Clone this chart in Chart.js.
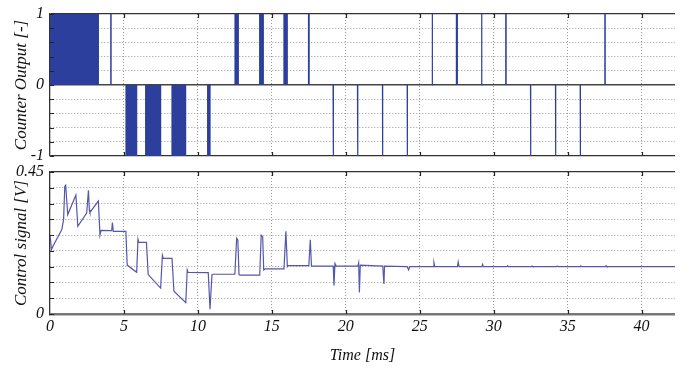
<!DOCTYPE html>
<html><head><meta charset="utf-8">
<script src="https://cdn.jsdelivr.net/npm/chart.js@4/dist/chart.umd.min.js"></script>
<style>
html,body{margin:0;padding:0;background:#fff;}
#wrap{position:relative;width:694px;height:380px;overflow:hidden;}
#c1{position:absolute;left:0;top:0;}
#c2{position:absolute;left:0;top:165px;}
</style></head><body>
<div id="wrap">
<canvas id="c1" width="694" height="165"></canvas>
<canvas id="c2" width="694" height="215"></canvas>
</div>
<script>
// ---- data ----
const xMax = 42.26;
const counterTickLabels = {"1":"1","0":"0","-1":"-1"};
const controlTickLabels = ["0","0.45"];

// counter output pulses (ms) and level
const pulseStart = [0, 4.11, 12.51, 14.18, 15.82, 17.48, 25.84, 27.48, 29.18, 30.82, 37.52,
                    5.14, 6.47, 8.25, 10.66, 19.14, 20.79, 22.48, 24.15, 32.49, 34.18, 35.85];
const pulseEnd   = [3.27, 4.13, 12.73, 14.42, 16.04, 17.52, 25.86, 27.54, 29.20, 30.84, 37.54,
                    5.86, 7.48, 9.17, 10.82, 19.17, 20.82, 22.50, 24.17, 32.51, 34.20, 35.87];
const pulseLevel = [1, 1, 1, 1, 1, 1, 1, 1, 1, 1, 1,
                    -1, -1, -1, -1, -1, -1, -1, -1, -1, -1, -1];

// control signal [V] vs time [ms]
const ctrlTime = [0, 0.1, 0.35, 0.8, 0.92, 1.0, 1.06, 1.2, 1.75, 1.88, 2.48, 2.6, 2.66, 2.7, 3.27, 3.38, 3.45,
  4.17, 4.22, 4.28, 5.13, 5.22, 5.86, 5.95, 6.0, 6.52, 6.64, 7.48, 7.6, 7.66, 8.25, 8.38, 9.18, 9.28, 9.34,
  10.7, 10.82, 10.95, 11.0, 12.5, 12.62, 12.7, 12.78, 12.85, 14.18, 14.28, 14.38, 14.45, 14.55,
  15.82, 15.95, 16.05, 16.1, 17.5, 17.6, 17.68, 19.15, 19.2, 19.27, 19.35, 20.82, 20.87, 20.92, 20.98,
  22.5, 22.58, 22.62, 24.15, 24.25, 24.32, 25.9, 25.96, 26.02, 27.55, 27.6, 27.66, 29.2, 29.25, 29.3,
  30.9, 30.95, 31.0, 32.55, 32.6, 32.65, 34.25, 34.3, 34.35, 35.85, 35.9, 35.95, 37.55, 37.6, 37.65, 42.26];
const ctrlValue = [0.25, 0.205, 0.228, 0.268, 0.30, 0.405, 0.408, 0.315, 0.377, 0.278, 0.32, 0.392, 0.33, 0.322, 0.358, 0.25, 0.265,
  0.264, 0.29, 0.262, 0.262, 0.155, 0.132, 0.237, 0.228, 0.227, 0.125, 0.082, 0.186, 0.176, 0.176, 0.072, 0.036, 0.14, 0.132,
  0.131, 0.015, 0.124, 0.126, 0.126, 0.24, 0.235, 0.125, 0.123, 0.123, 0.25, 0.245, 0.14, 0.143,
  0.143, 0.262, 0.15, 0.153, 0.153, 0.235, 0.152, 0.152, 0.09, 0.16, 0.152, 0.152, 0.162, 0.068, 0.155,
  0.152, 0.095, 0.152, 0.15, 0.14, 0.15, 0.15, 0.163, 0.15, 0.15, 0.165, 0.15, 0.15, 0.157, 0.15,
  0.15, 0.153, 0.15, 0.15, 0.152, 0.15, 0.15, 0.152, 0.15, 0.15, 0.152, 0.15, 0.15, 0.153, 0.15, 0.15];

// ---- build ----
const serif = "'Liberation Serif','DejaVu Serif',serif";
const pulsePts = [];
for (let i = 0; i < pulseStart.length; i++) {
  pulsePts.push({x: pulseStart[i], y: 0}, {x: pulseStart[i], y: pulseLevel[i]},
                {x: pulseEnd[i], y: pulseLevel[i]}, {x: pulseEnd[i], y: 0},
                {x: pulseEnd[i], y: null});
}
const ctrlPts = ctrlTime.map((t, i) => ({x: t, y: ctrlValue[i]}));

const near = (a, b) => Math.abs(a - b) < 1e-6;
const innerTicks = {
  id: 'innerTicks',
  afterDraw(chart) {
    const {ctx, chartArea: a, scales: {x, y}} = chart;
    ctx.save(); ctx.strokeStyle = '#222'; ctx.lineWidth = 1.2; ctx.beginPath();
    x.ticks.forEach(t => { if (near(t.value, 0)) return; const px = Math.round(x.getPixelForValue(t.value)) + 0.5;
      ctx.moveTo(px, a.top); ctx.lineTo(px, a.top + 4); ctx.moveTo(px, a.bottom); ctx.lineTo(px, a.bottom - 4); });
    y.ticks.forEach(t => { const py = Math.round(y.getPixelForValue(t.value)) + 0.5;
      ctx.moveTo(a.left, py); ctx.lineTo(a.left + 4, py); });
    ctx.stroke(); ctx.restore();
  }
};

function xScale(showLabels) {
  return {
    type: 'linear', min: 0, max: xMax,
    ticks: {display: showLabels, stepSize: 5, includeBounds: false, autoSkip: false, padding: 3, maxRotation: 0,
            font: {family: serif, size: 16, style: 'italic'}, color: '#111'},
    grid: {drawTicks: false, color: c => near(c.tick.value, 0) ? 'rgba(0,0,0,0)' : '#9a9a9a', lineWidth: 1},
    border: {display: false, dash: [1, 2]},
    title: showLabels ? {display: true, text: 'Time [ms]', font: {family: serif, size: 16, style: 'italic'},
            color: '#111', padding: {top: 0, bottom: 15}} : {display: false},
    afterFit: s => { s.height = showLabels ? 66 : 9; }
  };
}
const yTickFont = {family: serif, size: 16, style: 'italic', lineHeight: 0.1};

new Chart(document.getElementById('c1'), {
  type: 'line',
  data: {datasets: [{data: pulsePts, borderColor: '#2d3f9d', backgroundColor: '#2d3f9d',
    borderWidth: 1.2, pointRadius: 0, fill: 'origin', spanGaps: false, tension: 0}]},
  options: {
    responsive: false, animation: false, devicePixelRatio: 1,
    layout: {padding: {top: 14, right: 19, left: 0, bottom: 0}},
    plugins: {legend: {display: false}, tooltip: {enabled: false}},
    scales: {
      x: xScale(false),
      y: {
        min: -1, max: 1,
        ticks: {stepSize: 0.2, autoSkip: false, padding: 6, color: '#111', font: yTickFont,
          callback: v => { for (const k in counterTickLabels) if (near(v, +k)) return counterTickLabels[k]; return ''; }},
        grid: {drawTicks: false,
          color: c => near(c.tick.value, 0) ? '#444' : (near(Math.abs(c.tick.value), 1) ? '#333' : '#9a9a9a'),
          lineWidth: c => near(c.tick.value, 0) ? 1.5 : (near(Math.abs(c.tick.value), 1) ? 1.3 : 1)},
        border: {display: true, color: '#333', width: 1.3,
          dash: c => (near(c.tick.value, 0) || near(Math.abs(c.tick.value), 1)) ? [] : [1, 2]},
        title: {display: true, text: 'Counter Output [-]', color: '#111',
          font: {family: serif, size: 17, style: 'italic'}, padding: {top: 11, bottom: 0}},
        afterFit: s => { s.width = 50; }
      }
    }
  },
  plugins: [innerTicks]
});

new Chart(document.getElementById('c2'), {
  type: 'line',
  data: {datasets: [{data: ctrlPts, borderColor: '#5656aa', borderWidth: 1.2, pointRadius: 0,
    fill: false, tension: 0}]},
  options: {
    responsive: false, animation: false, devicePixelRatio: 1,
    layout: {padding: {top: 7, right: 19, left: 0, bottom: 0}},
    plugins: {legend: {display: false}, tooltip: {enabled: false}},
    scales: {
      x: xScale(true),
      y: {
        min: 0, max: 0.45,
        ticks: {stepSize: 0.05, autoSkip: false, padding: 6, color: '#111', font: yTickFont,
          callback: v => near(v, 0) ? controlTickLabels[0] : (near(v, 0.45) ? controlTickLabels[1] : '')},
        grid: {drawTicks: false,
          color: c => near(c.tick.value, 0) ? '#777' : (near(c.tick.value, 0.45) ? '#333' : '#9a9a9a'),
          lineWidth: c => near(c.tick.value, 0) ? 2.5 : (near(c.tick.value, 0.45) ? 1.3 : 1)},
        border: {display: true, color: '#333', width: 1.3,
          dash: c => (near(c.tick.value, 0) || near(c.tick.value, 0.45)) ? [] : [1, 2]},
        title: {display: true, text: 'Control signal [V]', color: '#111',
          font: {family: serif, size: 17, style: 'italic'}, padding: {top: 11, bottom: 0}},
        afterFit: s => { s.width = 50; }
      }
    }
  },
  plugins: [innerTicks]
});
</script>
</body></html>
